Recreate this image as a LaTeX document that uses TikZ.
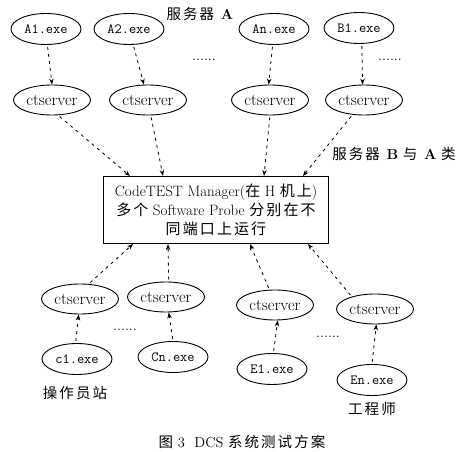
\documentclass[tikz,border=0pt]{standalone}
\usepackage{fontspec}
\newfontfamily\zh[LetterSpace=14]{Noto Sans CJK SC}
\usetikzlibrary{arrows.meta,positioning,shapes.geometric}

\begin{document}
\begin{tikzpicture}[x=1pt, y=-1pt,
  proc/.style={draw, ellipse, line width=0.9pt, minimum width=70pt, minimum height=31pt, inner sep=0pt, font=\fontsize{14}{16}\selectfont\ttfamily},
  srv/.style={draw, ellipse, line width=0.9pt, minimum width=77pt, minimum height=30pt, inner sep=0pt, font=\fontsize{16.5}{18}\selectfont},
  mgr/.style={draw, line width=1.1pt, minimum width=225pt, minimum height=67pt, align=center, font=\fontsize{15}{19}\selectfont},
  lbl/.style={font=\fontsize{14.5}{16}\selectfont, inner sep=1pt},
  arr/.style={-{Stealth[length=6pt, width=4.5pt]}, line width=0.8pt, dash pattern=on 3pt off 4pt, shorten <=2pt}
]
  \useasboundingbox (0,0) rectangle (464,452);

  % server A / B processes
  \node[proc] (a1) at (46,29) {A1.exe};
  \node[proc] (a2) at (129,29) {A2.exe};
  \node[proc] (an) at (274,29) {An.exe};
  \node[proc] (b1) at (359,28) {B1.exe};
  \node[srv] (s1) at (52,100) {ctserver};
  \node[srv] (s2) at (148,100) {ctserver};
  \node[srv] (s3) at (270,100) {ctserver};
  \node[srv] (s4) at (364,100) {ctserver};

  % manager on H
  \node[mgr] (mgr) at (216,210) {CodeTEST Manager({\zh 在} H {\zh 机上})\\{\zh 多个} Software Probe {\zh 分别在不}\\{\zh 同端口上运行}};

  % operator station / engineer
  \node[srv] (t1) at (80,299) {ctserver};
  \node[srv] (t2) at (166,297) {ctserver};
  \node[srv] (t3) at (275,305) {ctserver};
  \node[srv] (t4) at (375,309) {ctserver};
  \node[proc] (c1) at (77,359) {c1.exe};
  \node[proc] (cn) at (173,357) {Cn.exe};
  \node[proc] (e1) at (272,369) {E1.exe};
  \node[proc] (en) at (372,380) {En.exe};

  \node[lbl] (srvA) at (200,14) {{\zh 服务器} \textbf{A}};
  \node[lbl] (srvB) at (394,154) {{\zh 服务器} \textbf{B} {\zh 与} \textbf{A} {\zh 类}};
  \node[lbl] (dots1) at (204,60) {......};
  \node[lbl] (dots2) at (390,60) {......};
  \node[lbl] (dots3) at (125,330) {......};
  \node[lbl] (dots4) at (328,337) {......};
  \node[lbl] (op) at (75,393) {\zh 操作员站};
  \node[lbl] (eng) at (372,409) {\zh 工程师};
  \node[lbl] (cap) at (242,442) {{\zh 图} 3\ \ DCS {\zh 系统测试方案}};

  \draw[arr] (a1.-85) -- (s1.90);
  \draw[arr] (a2.-75) -- (s2.105);
  \draw[arr] (an.-95) -- (s3.95);
  \draw[arr] (b1.-80) -- (s4.95);

  \draw[arr] (s1.-68) -- ([xshift=-86pt]mgr.north);
  \draw[arr] (s2.-80) -- ([xshift=-53pt]mgr.north);
  \draw[arr] (s3.-90) -- ([xshift=48pt]mgr.north);
  \draw[arr] (s4.-128) -- ([xshift=87pt]mgr.north);

  \draw[arr] (c1.95) -- (t1.-95);
  \draw[arr] (cn.90) -- (t2.-80);
  \draw[arr] (e1.85) -- (t3.-80);
  \draw[arr] (en.90) -- (t4.-85);

  \draw[arr] (t1.60) -- ([xshift=-83pt]mgr.south);
  \draw[arr] (t2.80) -- ([xshift=-48pt]mgr.south);
  \draw[arr] (t3.110) -- ([xshift=34pt]mgr.south);
  \draw[arr] (t4.152) -- ([xshift=92pt]mgr.south);
\end{tikzpicture}
\end{document}
